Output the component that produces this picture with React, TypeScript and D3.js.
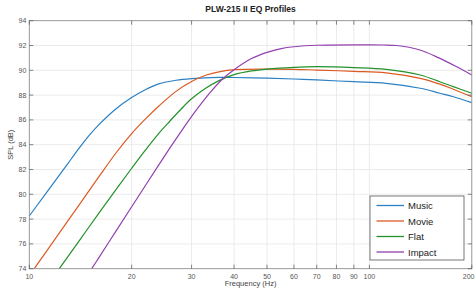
import React from "react";
import * as d3 from "d3";

const title = "PLW-215 II EQ Profiles";
const xLabel = "Frequency (Hz)";
const yLabel = "SPL (dB)";
const xTicks = [10, 20, 30, 40, 50, 60, 70, 80, 90, 100, 200];
const yTicks = [74, 76, 78, 80, 82, 84, 86, 88, 90, 92, 94];

const musicFreq = [10, 11, 12, 13, 14, 15, 16, 18, 20, 22, 24, 27, 30, 36, 40, 50, 60, 70, 90, 112, 141, 161, 176.5, 200];
const musicSpl = [78.25, 79.8, 81.2, 82.5, 83.7, 84.75, 85.6, 86.9, 87.8, 88.45, 88.9, 89.2, 89.33, 89.43, 89.42, 89.37, 89.3, 89.22, 89.08, 88.95, 88.55, 88.15, 87.87, 87.39];

const movieFreq = [10.34, 12, 14, 16, 18, 20, 22, 24, 27, 30, 33, 36.4, 40, 50, 60, 70, 90, 112, 141, 161, 176.5, 200];
const movieSpl = [74, 76.52, 79.13, 81.4, 83.35, 84.9, 86.1, 87.1, 88.3, 89.1, 89.6, 89.9, 90.05, 90.1, 90.08, 90.02, 89.92, 89.8, 89.35, 88.89, 88.47, 87.87];

const flatFreq = [12.25, 14, 16, 18, 20, 22, 24, 26, 28, 30, 33, 36, 40, 45, 50, 60, 70, 90, 112, 141, 161, 176.5, 200];
const flatSpl = [74, 76.23, 78.46, 80.4, 82.1, 83.6, 84.9, 85.95, 86.9, 87.7, 88.55, 89.15, 89.65, 89.95, 90.1, 90.24, 90.29, 90.22, 90.08, 89.62, 89.08, 88.68, 88.15];

const impactFreq = [15.26, 16, 18, 20, 22, 24, 26, 28, 31, 34, 37, 40, 45, 50, 55, 60, 70, 100, 110, 120, 140, 160, 180, 200];
const impactSpl = [74, 74.87, 77.05, 79.0, 80.75, 82.35, 83.8, 85.1, 86.8, 88.2, 89.3, 90.05, 90.95, 91.45, 91.75, 91.9, 92.02, 92.05, 92.04, 92.0, 91.66, 91.0, 90.3, 89.62];

const seriesNames = ["Music", "Movie", "Flat", "Impact"];
const seriesColors = ["#2b80c4", "#dc5a22", "#23922a", "#9440ae"];
const seriesFreqs = [musicFreq, movieFreq, flatFreq, impactFreq];
const seriesValues = [musicSpl, movieSpl, flatSpl, impactSpl];

const W = 475;
const H = 288;
const M = { left: 29.3, right: 471.8, top: 20.7, bottom: 268.7 };

export default function App() {
  const x = d3.scaleLog().domain([10, 200]).range([M.left, M.right]);
  const y = d3.scaleLinear().domain([74, 94]).range([M.bottom, M.top]);
  const line = d3
    .line<[number, number]>()
    .x((d) => x(d[0]))
    .y((d) => y(d[1]))
    .curve(d3.curveCatmullRom.alpha(0.5));

  const font = "Arial, 'Liberation Sans', Helvetica, sans-serif";
  const legX = 370;
  const legY = 196;
  const legW = 94;
  const legH = 64;

  return (
    <svg
      width={W}
      height={H}
      style={{ position: "absolute", left: 0, top: 0, background: "#fff" }}
      fontFamily={font}
    >
      <defs>
        <clipPath id="plotClip">
          <rect x={M.left} y={M.top} width={M.right - M.left} height={M.bottom - M.top} />
        </clipPath>
      </defs>
      <rect x={M.left} y={M.top} width={M.right - M.left} height={M.bottom - M.top} fill="#fff" />
      {xTicks.map((t) => (
        <line key={"gx" + t} x1={x(t)} x2={x(t)} y1={M.top} y2={M.bottom} stroke="#e6e6e6" strokeWidth={0.8} />
      ))}
      {yTicks.map((t) => (
        <line key={"gy" + t} x1={M.left} x2={M.right} y1={y(t)} y2={y(t)} stroke="#e6e6e6" strokeWidth={0.8} />
      ))}
      <g clipPath="url(#plotClip)">
        {seriesNames.map((n, i) => (
          <path
            key={n}
            d={line(seriesFreqs[i].map((f, j) => [f, seriesValues[i][j]] as [number, number])) || ""}
            fill="none"
            stroke={seriesColors[i]}
            strokeWidth={1.2}
          />
        ))}
      </g>
      <rect x={M.left} y={M.top} width={M.right - M.left} height={M.bottom - M.top} fill="none" stroke="#8a8a8a" strokeWidth={0.8} />
      {xTicks.map((t, i) => {
        const last = i === xTicks.length - 1;
        return (
          <g key={"tx" + t}>
            <line x1={x(t)} x2={x(t)} y1={M.bottom} y2={M.bottom - 4} stroke="#555" strokeWidth={0.7} />
            <line x1={x(t)} x2={x(t)} y1={M.top} y2={M.top + 4} stroke="#555" strokeWidth={0.7} />
            <text
              x={last ? W - 0.5 : x(t)}
              y={M.bottom + 10}
              fontSize={7}
              fill="#555"
              textAnchor={last ? "end" : "middle"}
            >
              {t}
            </text>
          </g>
        );
      })}
      {yTicks.map((t) => (
        <g key={"ty" + t}>
          <line x1={M.left} x2={M.left + 4} y1={y(t)} y2={y(t)} stroke="#555" strokeWidth={0.7} />
          <line x1={M.right} x2={M.right - 4} y1={y(t)} y2={y(t)} stroke="#555" strokeWidth={0.7} />
          <text x={M.left - 3} y={y(t) + 2.5} fontSize={7} fill="#555" textAnchor="end">
            {t}
          </text>
        </g>
      ))}
      <text x={(M.left + M.right) / 2} y={12} fontSize={8.5} fontWeight="bold" fill="#222" textAnchor="middle">
        {title}
      </text>
      <text x={(M.left + M.right) / 2} y={286} fontSize={7.5} fill="#444" textAnchor="middle">
        {xLabel}
      </text>
      <text
        transform={`translate(13, ${(M.top + M.bottom) / 2}) rotate(-90)`}
        fontSize={7.5}
        fill="#444"
        textAnchor="middle"
      >
        {yLabel}
      </text>
      <rect x={legX} y={legY} width={legW} height={legH} fill="#fff" stroke="#555" strokeWidth={0.8} />
      {seriesNames.map((n, i) => (
        <g key={"lg" + n}>
          <line
            x1={legX + 6.5}
            x2={legX + 34}
            y1={legY + 9.5 + i * 15.5}
            y2={legY + 9.5 + i * 15.5}
            stroke={seriesColors[i]}
            strokeWidth={1.3}
          />
          <text x={legX + 38} y={legY + 13 + i * 15.5} fontSize={9.5} fill="#222">
            {n}
          </text>
        </g>
      ))}
    </svg>
  );
}
